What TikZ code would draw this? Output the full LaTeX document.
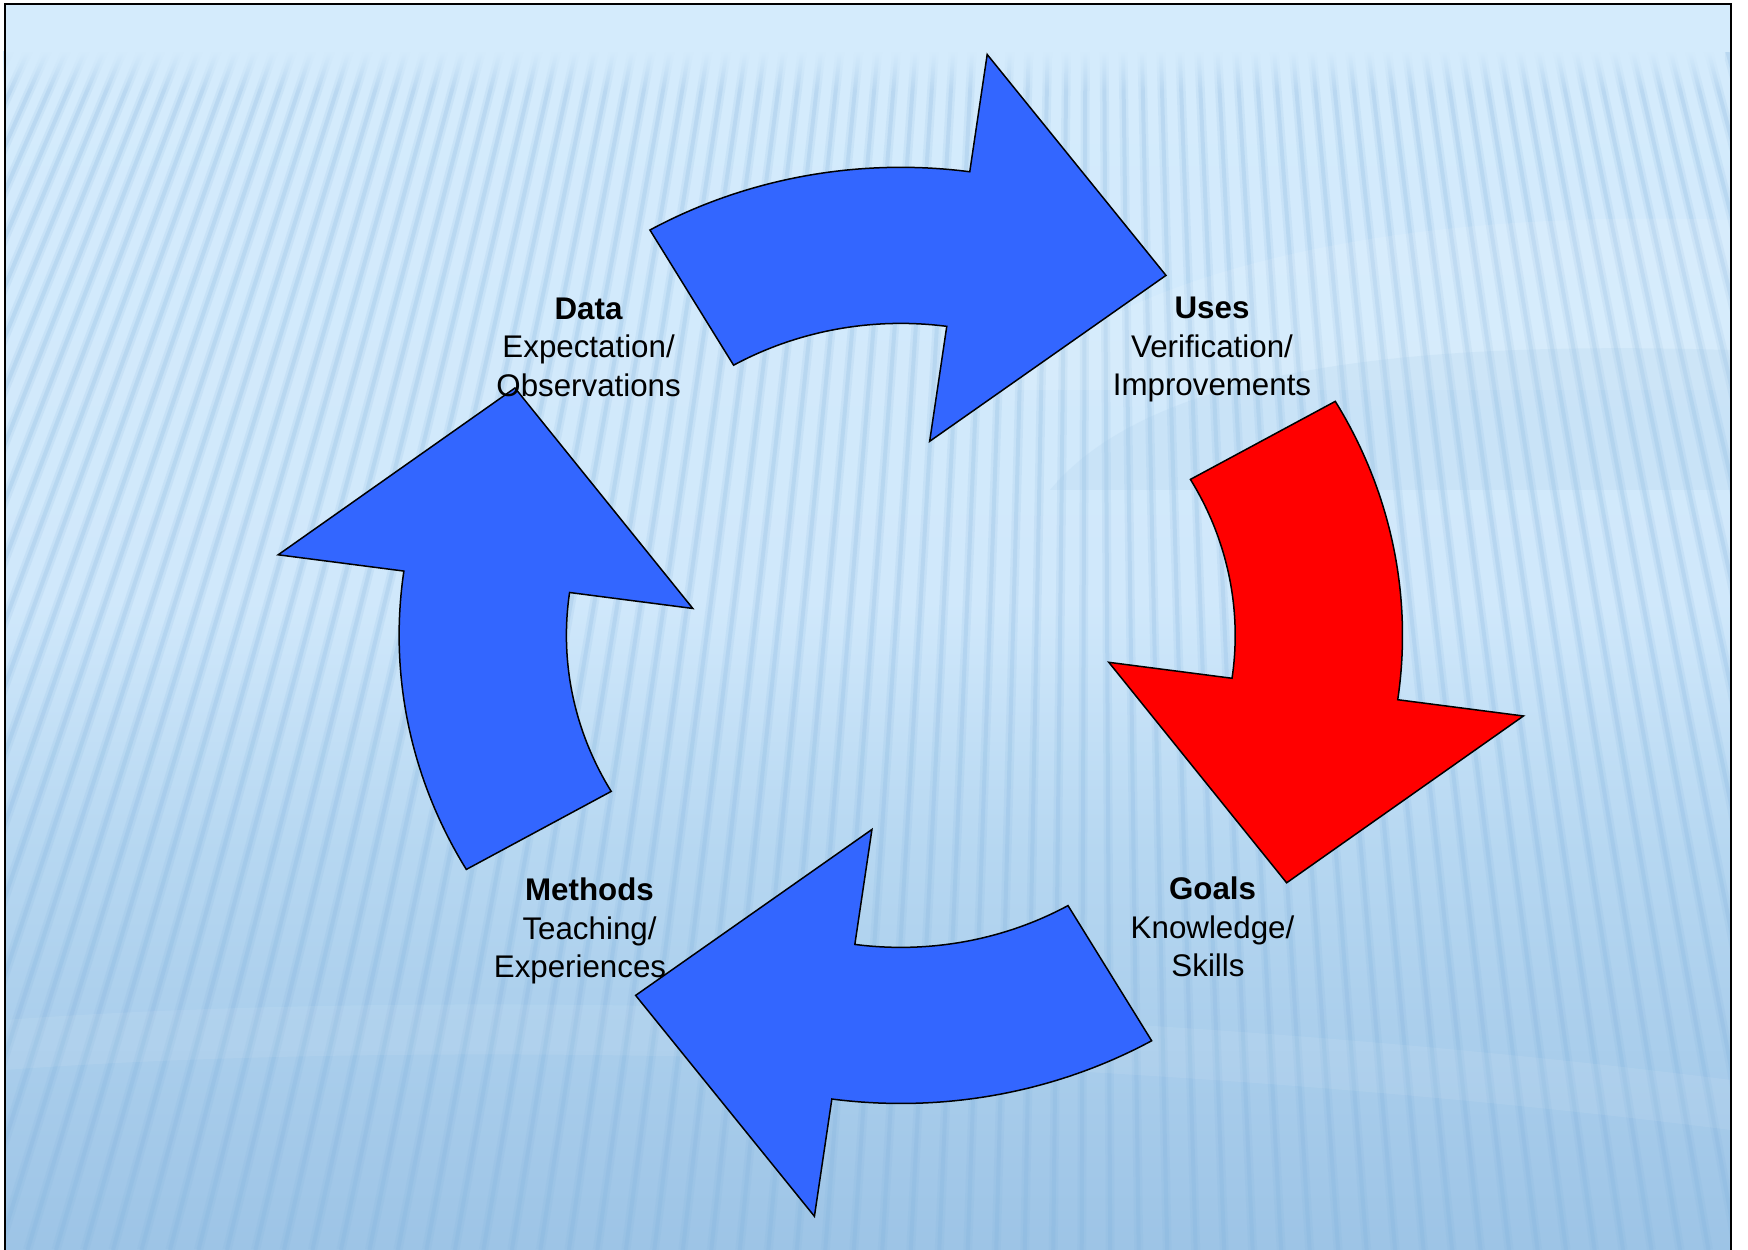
\documentclass[tikz,border=0pt]{standalone}
\usepackage{fontspec}
\setmainfont{Liberation Sans}
\usetikzlibrary{fadings}
\definecolor{arrowblue}{HTML}{3366FF}
\definecolor{arrowred}{HTML}{FF0000}
\definecolor{bgtop}{HTML}{D4EBFC}
\definecolor{bgtopb}{HTML}{D0E8FB}
\definecolor{bgmid}{HTML}{B6D7F1}
\definecolor{bgbot}{HTML}{9DC4E6}
\definecolor{stripe}{HTML}{7FB0DC}
\pgfdeclareverticalshading{bgshade}{100bp}{color(0bp)=(bgbot); color(25bp)=(bgbot); color(41bp)=(bgmid); color(51bp)=(bgtopb); color(72bp)=(bgtop); color(100bp)=(bgtop)}
\tikzfading[name=topfade, top color=transparent!0, bottom color=transparent!100]
\newcommand\ROut{501.7}
\newcommand\RIn{334.4}
\newcommand\RHo{628.6}
\newcommand\RHi{210}
\newcommand\RTip{468.2}
\newcommand\cycarrow[3]{%
  \path[#2] (#1:\ROut) arc[start angle=#1, end angle=#1-37.9, radius=\ROut]
    -- ({#1-37.9}:\RHo) -- ({#1-64.5}:\RTip) coordinate (#3) -- ({#1-37.9}:\RHi)
    -- ({#1-37.9}:\RIn) arc[start angle=#1-37.9, end angle=#1, radius=\RIn] -- cycle;}
\begin{document}
\begin{tikzpicture}[x=1pt,y=1pt,
  arrowshape/.style={draw=black, line width=1.5pt, line join=miter},
  bluearrow/.style={arrowshape, fill=arrowblue},
  redarrow/.style={arrowshape, fill=arrowred},
  lbl/.style={align=center, font=\fontsize{31.3}{38.5}\selectfont, inner sep=0pt, anchor=base},
  stripewide/.style={stripe, line width=9pt, opacity=0.13},
  stripenarrow/.style={stripe, line width=4pt, opacity=0.2}]
\useasboundingbox (0,0) rectangle (1748,1250);
\fill[white] (0,0) rectangle (1748,1250);
% background
\shade[shading=bgshade] (5,0) rectangle (1731,1246);
\begin{scope}
  \clip (5,0) rectangle (1731,1246);
  \foreach \i in {0,...,112} {
    \pgfmathsetmacro\xt{-80+18.5*\i}
    \pgfmathsetmacro\xb{\xt+(-0.5+0.8*\xt/1748)*1180}
    \draw[stripewide] (\xt,1246) -- (\xb,0);
    \draw[stripenarrow] (\xt,1246) -- (\xb,0);
  }
\end{scope}
\fill[bgtop] (5,1198) rectangle (1731,1246);
\fill[bgtop, path fading=topfade] (5,1158) rectangle (1731,1198.5);
% subtle large bands at right
\fill[white, opacity=0.10] (1731,1030) .. controls (1450,1040) and (1150,1000) .. (1000,860) -- (1731,860) -- cycle;
\fill[bgbot, opacity=0.15] (1731,900) .. controls (1400,910) and (1150,880) .. (1050,760) -- (1731,760) -- cycle;
\fill[white, opacity=0.07] (5,230) .. controls (400,260) and (1100,250) .. (1731,170) -- (1731,120) .. controls (1100,200) and (400,210) .. (5,180) -- cycle;
% frame
\draw[line width=1.5pt] (5,0) -- (5,1246) -- (1731,1246) -- (1731,0);
% arrows
\begin{scope}[shift={(900.8,614.6)}, yscale=0.933]
  \cycarrow{120}{bluearrow}{tipTop}
  \cycarrow{30}{redarrow}{tipRight}
  \cycarrow{-60}{bluearrow}{tipBottom}
  \cycarrow{-150}{bluearrow}{tipLeft}
\end{scope}
% labels
\node[lbl] (data) at (588.6,853.5) {\textbf{Data}\\Expectation/\\Observations};
\node[lbl] (uses) at (1212,854) {\textbf{Uses}\\Verification/\\Improvements};
\node[lbl] (methods) at (589.5,272) {\textbf{Methods}\\Teaching/\\Experiences\rule{19pt}{0pt}};
\node[lbl] (goals) at (1212.5,273) {\textbf{Goals}\\Knowledge/\\Skills\rule{9pt}{0pt}};
\end{tikzpicture}
\end{document}
